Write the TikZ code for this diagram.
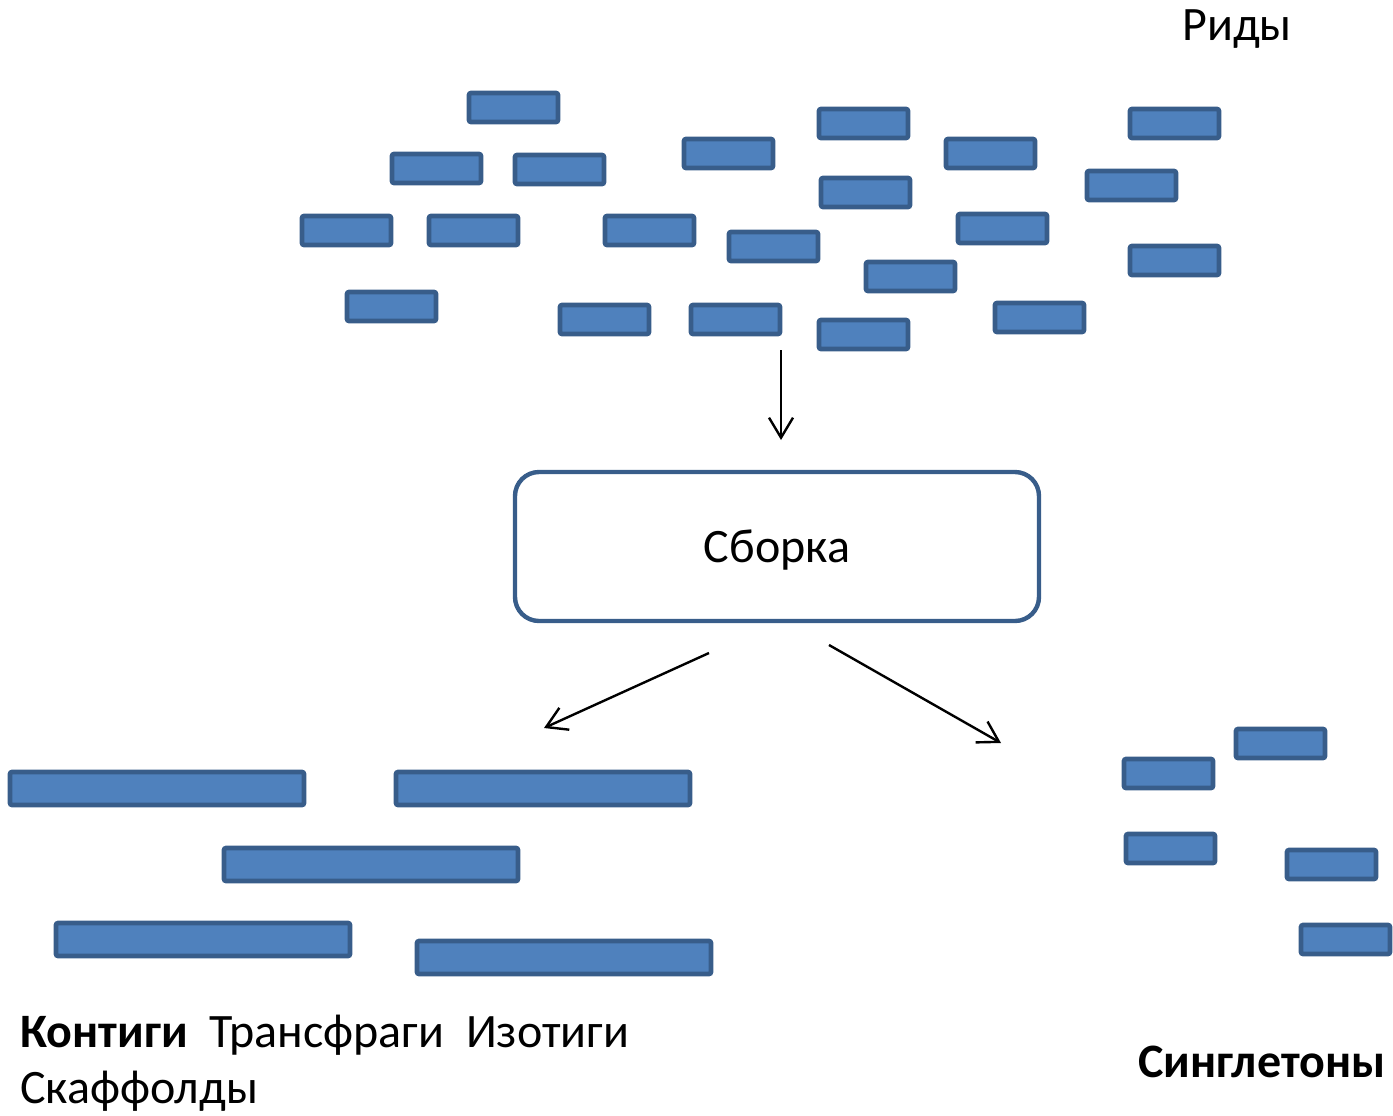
\documentclass[tikz,border=0pt]{standalone}
\usepackage{fontspec}
\setmainfont{Carlito}
\usepackage{xcolor}
\usetikzlibrary{arrows.meta,positioning}
\definecolor{readfill}{HTML}{4F81BD}
\definecolor{readline}{HTML}{385D8A}
\tikzset{
  rd/.style={draw=readline,line width=2.3pt,fill=readfill,rounded corners=1pt},
  asm/.style={draw=readline,line width=2.2pt,fill=white,rounded corners=12pt,minimum width=262pt,minimum height=74.5pt,inner sep=0pt,text depth=0pt},
  ar/.style={-{Straight Barb[length=10pt,width=12pt]},line width=1.2pt,black},
  lbl/.style={font=\fontsize{24}{29}\selectfont,inner sep=0pt}
}
\begin{document}
\begin{tikzpicture}[x=0.5pt,y=-0.5pt]
\useasboundingbox (0,0) rectangle (1393,1115);
% reads
\foreach \x/\y in {467/91,390/152,513/153,300/214,427/214,603/214,682/137,727/230,
  345/290,558/303,689/303,817/107,819/176,817/318,864/260,944/137,956/212,993/301,
  1085/169,1128/107,1128/244}
  \draw[rd] (\x+2,\y+2) rectangle ++(89,29);
\node[lbl,anchor=base west] (reads) at (1182,40) {Риды};
% assembly
\node[asm,lbl] (asm) at (777,546.5) {Сборка};
\coordinate (rdout) at (781,350);
\coordinate (asmin) at (781,440);
\coordinate (asmL) at (709,653);
\coordinate (ctgin) at (544,728);
\coordinate (asmR) at (829,645);
\coordinate (sgin) at (1001,743);
\draw[ar] (rdout) -- (asmin);
\draw[ar] (asmL) -- (ctgin);
\draw[ar] (asmR) -- (sgin);
% contigs
\foreach \x/\y in {8/770,394/770,222/846,54/921,415/939}
  \draw[rd] (\x+2,\y+2) rectangle ++(294,33);
\node[lbl,anchor=base west] (ctg) at (20,1047) {\textbf{Контиги}\ \ Трансфраги\ \ Изотиги};
\node[lbl,anchor=base west] (scf) at (20,1103) {Скаффолды};
% singletons
\foreach \x/\y in {1234/727,1122/757,1124/832,1285/848,1299/923}
  \draw[rd] (\x+2,\y+2) rectangle ++(89,29);
\node[lbl,anchor=base east] (sgl) at (1386,1077) {\textbf{Синглетоны}};
\end{tikzpicture}
\end{document}
